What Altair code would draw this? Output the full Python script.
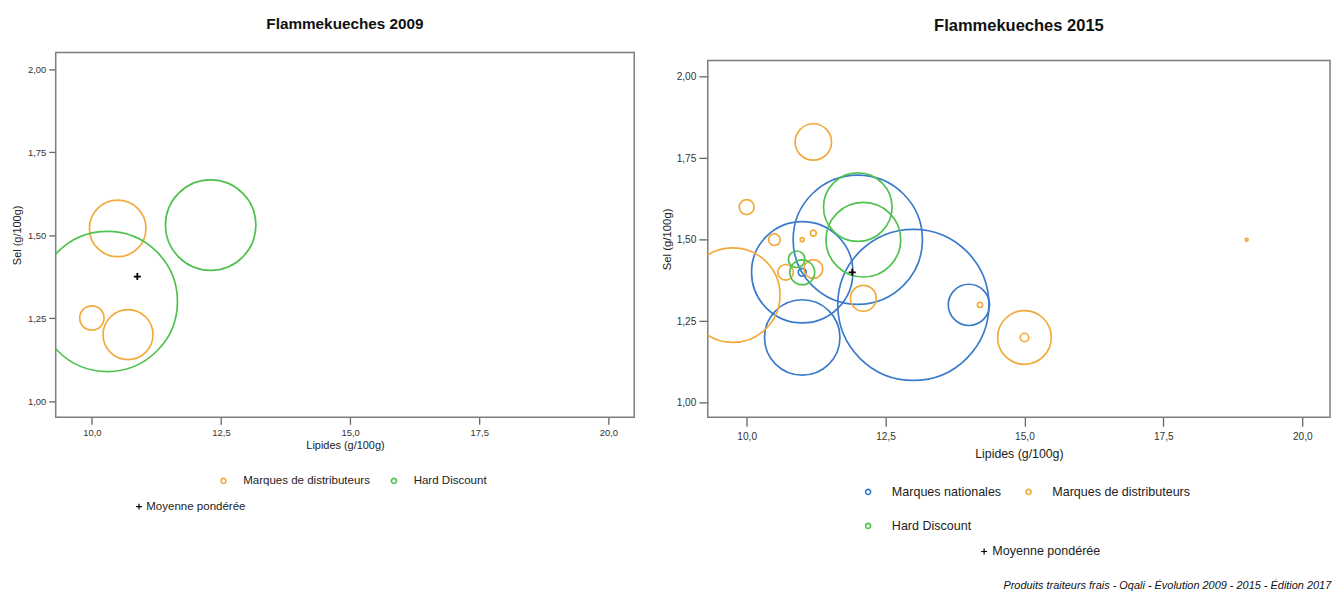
import altair as alt
import pandas as pd

# ---------------- Data ----------------
# 2009
groupes_2009 = ["Marques de distributeurs"] * 3 + ["Hard Discount"] * 2
lipides_2009 = [10.5, 10.0, 10.7, 10.3, 12.3]
sel_2009 = [1.52, 1.25, 1.20, 1.30, 1.53]
poids_2009 = [8.1, 1.5, 6.3, 49.7, 20.7]
moy_lipides_2009 = [10.88]
moy_sel_2009 = [1.375]

# 2015
groupes_2015 = (["Marques nationales"] * 6 + ["Marques de distributeurs"] * 13
                + ["Hard Discount"] * 4)
lipides_2015 = [11.0, 12.0, 13.0, 11.0, 14.0, 11.0,
                11.2, 10.0, 10.5, 11.0, 11.2, 9.75, 10.7, 11.2, 12.1, 14.2, 15.0, 15.0, 19.0,
                12.0, 12.1, 10.9, 11.0]
sel_2015 = [1.40, 1.50, 1.30, 1.20, 1.30, 1.40,
            1.80, 1.60, 1.50, 1.50, 1.52, 1.33, 1.40, 1.41, 1.32, 1.30, 1.20, 1.20, 1.50,
            1.60, 1.50, 1.44, 1.40]
poids_2015 = [26.0, 42.3, 57.8, 14.4, 4.3, 0.16,
              3.35, 0.56, 0.34, 0.04, 0.09, 22.6, 0.61, 0.9, 1.69, 0.07, 7.29, 0.18, 0.02,
              11.9, 14.1, 0.69, 1.56]
moy_lipides_2015 = [11.9]
moy_sel_2015 = [1.40]

x_ticks = [10.0, 12.5, 15.0, 17.5, 20.0]
y_ticks = [1.00, 1.25, 1.50, 1.75, 2.00]
moyenne_label = "Moyenne pondérée"
footer = "Produits traiteurs frais - Oqali - Évolution 2009 - 2015 - Édition 2017"

couleurs = {
    "Marques nationales": "#3b7bcb",
    "Marques de distributeurs": "#f2aa3c",
    "Hard Discount": "#4fc24f",
}

FONT = "Liberation Sans"
CROSS = "M-1,0H1M0,-1V1"
FRAME = "#7d7d7d"


def panel(titre, groupes, lipides, sel, poids, mx, my, cats, w, h, st):
    df = pd.DataFrame({"groupe": groupes, "lipides": lipides, "sel": sel, "poids": poids})
    dm = pd.DataFrame({"lipides": mx, "sel": my, "label": [moyenne_label] * len(mx)})

    xdom = [9.3, 20.5]
    ydom = st["ydom"]
    xs = alt.Scale(domain=xdom, nice=False, zero=False)
    ys = alt.Scale(domain=ydom, nice=False, zero=False, range=[h, st["ytop"]])
    xaxis = alt.Axis(values=x_ticks, labelExpr="replace(format(datum.value, '.1f'), '.', ',')",
                     title="Lipides (g/100g)", grid=False, domain=False,
                     tickSize=st["tick"], tickColor="#666", tickWidth=1.3,
                     labelFontSize=st["lab"], labelColor="#333", labelFont=FONT,
                     labelPadding=st["lpad"], titleFont=FONT, titleFontSize=st["xt"],
                     titleFontWeight="normal", titleColor="#222", titlePadding=st["xtpad"])
    yaxis = alt.Axis(values=y_ticks, labelExpr="replace(format(datum.value, '.2f'), '.', ',')",
                     title="Sel (g/100g)", grid=False, domain=False,
                     tickSize=st["tick"], tickColor="#666", tickWidth=1.3,
                     labelFontSize=st["lab"], labelColor="#333", labelFont=FONT,
                     labelPadding=3, titleFont=FONT, titleFontSize=st["yt"],
                     titleFontWeight="normal", titleColor="#222", titlePadding=st["ytpad"])

    # frame of the plotting region, drawn through the scales at the domain limits
    frame = alt.Chart(pd.DataFrame({"f": [0]})).mark_rect(
        fill="transparent", stroke=FRAME, strokeWidth=1.5).encode(
        x=alt.X(datum=xdom[0], scale=xs, axis=xaxis),
        x2=alt.X2(datum=xdom[1]),
        y=alt.Y(datum=ydom[1], scale=ys, axis=yaxis),
        y2=alt.Y2(datum=ydom[0]),
    )

    circles = alt.Chart(df).mark_point(shape="circle", filled=False, strokeWidth=1.7,
                                       opacity=1, clip=True).encode(
        x=alt.X("lipides:Q", scale=xs, axis=xaxis),
        y=alt.Y("sel:Q", scale=ys, axis=yaxis),
        size=alt.Size("poids:Q", scale=alt.Scale(domain=[0, 100], range=[0, 40000]), legend=None),
        color=alt.Color("groupe:N",
                        scale=alt.Scale(domain=cats, range=[couleurs[c] for c in cats]),
                        legend=alt.Legend(orient="none", legendX=st["lx"], legendY=st["ly"],
                                          direction="horizontal", columns=st["cols"],
                                          title=None, symbolType="circle", symbolSize=26,
                                          symbolStrokeWidth=1.6, labelFont=FONT,
                                          labelFontSize=st["leg"], labelColor="#222",
                                          labelOffset=st["loff"], columnPadding=st["cpad"],
                                          rowPadding=st["rpad"], labelLimit=300)),
    )
    cross = alt.Chart(dm).mark_point(filled=False, color="black", strokeWidth=1.8,
                                     size=50, opacity=1).encode(
        x=alt.X("lipides:Q", scale=xs),
        y=alt.Y("sel:Q", scale=ys),
        shape=alt.Shape("label:N", scale=alt.Scale(domain=[moyenne_label], range=[CROSS]),
                        legend=alt.Legend(orient="none", legendX=st["mx"], legendY=st["my"],
                                          title=None, symbolSize=34, symbolStrokeColor="black",
                                          symbolStrokeWidth=1.2, labelFont=FONT,
                                          labelFontSize=st["leg"], labelColor="#222",
                                          labelOffset=st["moff"])),
    )
    return alt.layer(frame, circles, cross).properties(
        width=w, height=h,
        view=alt.ViewBackground(stroke="transparent"),
        title=alt.TitleParams(titre, font=FONT, fontSize=st["title"], fontWeight="bold",
                              color="#111", anchor="middle", baseline="alphabetic",
                              offset=st["toff"]),
    )


st_2009 = dict(ydom=[0.951, 2.05], ytop=0,
               tick=7, lab=9.5, lpad=3, xt=11, xtpad=3, yt=11, ytpad=5,
               lx=163, ly=425, cols=2, leg=11.6, loff=14, cpad=17.5, rpad=20,
               mx=78, my=451, moff=1.5, title=15.4, toff=7.5)
st_2015 = dict(ydom=[0.955, 2.05], ytop=8,
               tick=9, lab=10.2, lpad=5, xt=12.4, xtpad=6, yt=11.4, ytpad=4,
               lx=155, ly=435.7, cols=2, leg=12.6, loff=17.6, cpad=20.4, rpad=21.3,
               mx=271.7, my=495.7, moff=2, title=16.6, toff=5)

p1 = panel("Flammekueches 2009", groupes_2009, lipides_2009, sel_2009, poids_2009,
           moy_lipides_2009, moy_sel_2009, ["Marques de distributeurs", "Hard Discount"],
           582, 367, st_2009)
p2 = panel("Flammekueches 2015", groupes_2015, lipides_2015, sel_2015, poids_2015,
           moy_lipides_2015, moy_sel_2015,
           ["Marques nationales", "Marques de distributeurs", "Hard Discount"],
           626, 367, st_2015)

chart = alt.hconcat(p1, p2, spacing=24).resolve_scale(
    x="independent", y="independent", color="independent", shape="independent",
    size="independent",
).resolve_legend(color="independent", shape="independent").properties(
    title=alt.TitleParams(footer, orient="bottom", anchor="end", font=FONT, fontSize=11,
                          fontStyle="italic", fontWeight="normal", color="#111", offset=21.5),
    padding={"left": 3, "top": 6, "right": 2, "bottom": 2},
).configure(background="white")

chart.save("out.html", embed_options={"renderer": "svg", "actions": False})
